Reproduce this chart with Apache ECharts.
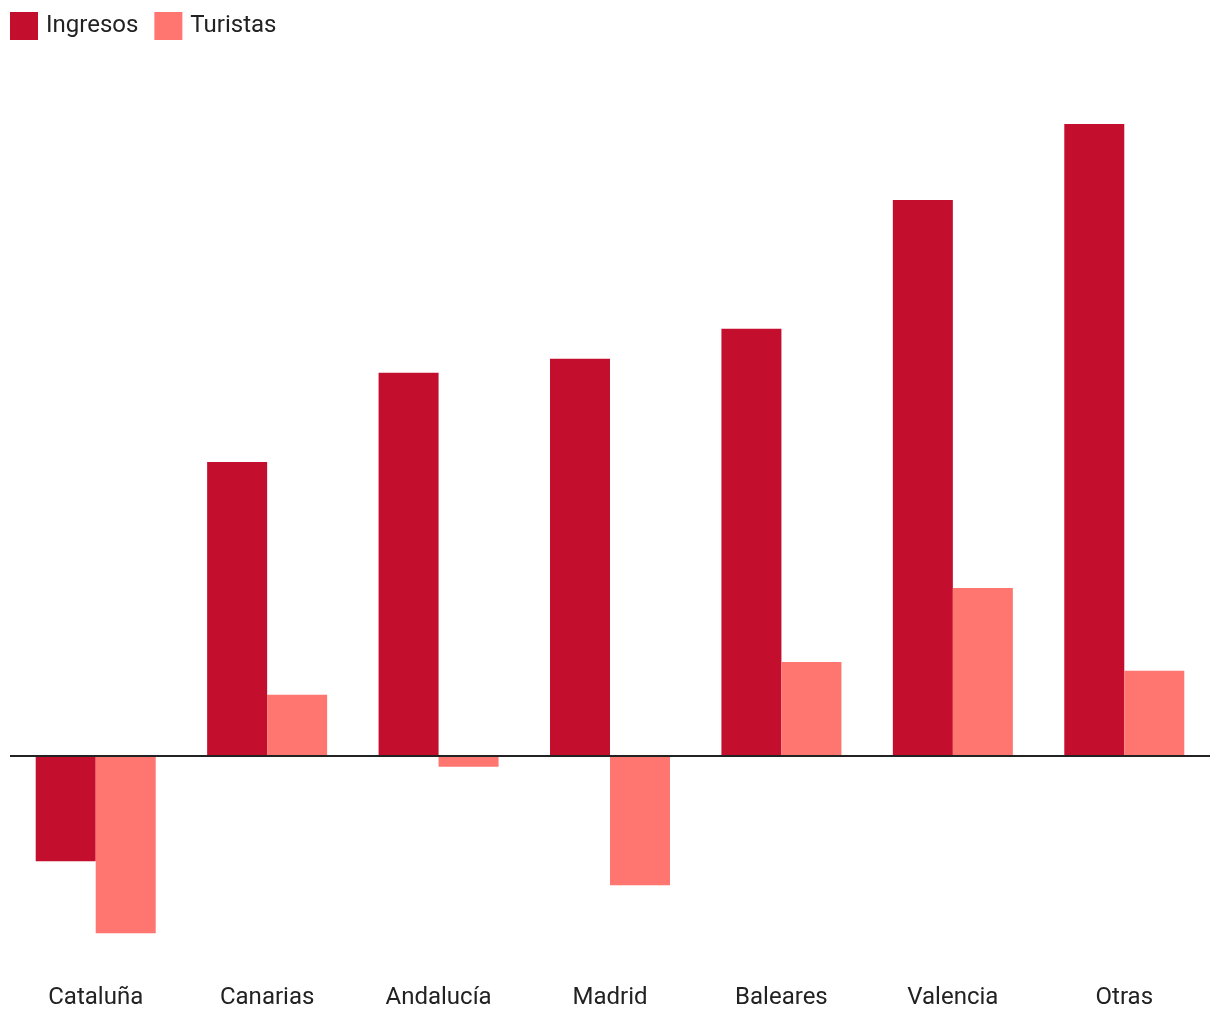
<!DOCTYPE html>
<html>
<head>
<meta charset="utf-8">
<script src="https://cdn.jsdelivr.net/npm/echarts@6/dist/echarts.min.js"></script>
<style>html,body{margin:0;padding:0;background:#fff}#c{width:1220px;height:1020px}</style>
</head>
<body>
<div id="c"></div>
<script>
const categories = ['Cataluña', 'Canarias', 'Andalucía', 'Madrid', 'Baleares', 'Valencia', 'Otras'];
const ingresos = [-2.63, 7.35, 9.58, 9.93, 10.68, 13.9, 15.8];
const turistas = [-4.43, 1.53, -0.27, -3.23, 2.35, 4.2, 2.13];

const chart = echarts.init(document.getElementById('c'));
chart.setOption({
  animation: false,
  textStyle: { fontFamily: 'Roboto' },
  legend: {
    left: 10, top: 12, padding: 0, itemWidth: 28, itemHeight: 28, itemGap: 16,
    icon: 'rect',
    textStyle: { fontSize: 24, color: '#222', fontFamily: 'Roboto', padding: [4, 0, 0, 3] },
    data: ['Ingresos', 'Turistas']
  },
  grid: { left: 10, right: 10, top: 100, bottom: 60, containLabel: false },
  xAxis: {
    type: 'category', data: categories,
    axisLine: { show: false }, axisTick: { show: false },
    axisLabel: { fontSize: 24, color: '#222', margin: 26, fontFamily: 'Roboto' }
  },
  yAxis: {
    type: 'value', min: -5.1, max: 16.4, show: false, splitLine: { show: false }
  },
  series: [
    { name: 'Ingresos', type: 'bar', data: ingresos, barGap: '0%', barCategoryGap: '30%', itemStyle: { color: '#c30e2e' } },
    { name: 'Turistas', type: 'bar', data: turistas, barGap: '0%', barCategoryGap: '30%', itemStyle: { color: '#ff7670' },
      markLine: { silent: true, symbol: 'none', label: { show: false },
        lineStyle: { color: '#222', width: 2, type: 'solid' },
        data: [{ yAxis: 0 }] } }
  ]
});
</script>
</body>
</html>
